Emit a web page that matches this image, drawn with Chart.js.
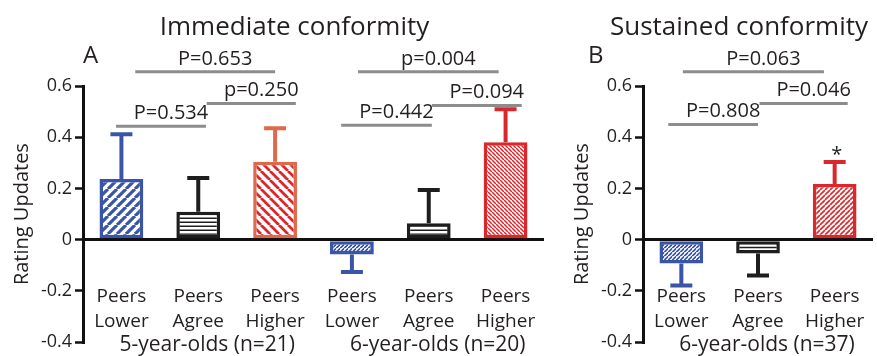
<!DOCTYPE html>
<html>
<head>
<meta charset="utf-8">
<script src="https://cdn.jsdelivr.net/npm/chart.js@4.4.0/dist/chart.umd.min.js"></script>
<style>
html, body { margin: 0; padding: 0; background: #fff; }
#wrap { position: relative; width: 877px; height: 356px; overflow: hidden; }
#chart-a { position: absolute; left: 0; top: 0; }
#chart-b { position: absolute; left: 560px; top: 0; }
</style>
</head>
<body>
<div id="wrap">
    <canvas id="chart-a" width="580" height="356"></canvas>
    <canvas id="chart-b" width="317" height="356"></canvas>
</div>
<script>
// ---- data ----
const yTicks = [-0.4, -0.2, 0, 0.2, 0.4, 0.6];

// A: immediate conformity
const immediateLabels = [['Peers', 'Lower'], ['Peers', 'Agree'], ['Peers', 'Higher'],
                         ['Peers', 'Lower'], ['Peers', 'Agree'], ['Peers', 'Higher']];
const immediateMeans = [0.237, 0.109, 0.304, -0.058, 0.064, 0.38];
const immediateSem = [0.175, 0.132, 0.131, 0.068, 0.13, 0.129];
const immediateGroups = ['5-year-olds (n=21)', '6-year-olds (n=20)'];
// comparisons: span in category units, height in rating units, label
const immediateFrom = [0.18, -0.07, 1.11, 3.08, 2.86, 4.04];
const immediateTo = [2.0, 1.10, 2.27, 4.91, 4.04, 5.21];
const immediateLevel = [0.656, 0.443, 0.532, 0.656, 0.447, 0.524];
const immediateP = ['P=0.653', 'P=0.534', 'p=0.250', 'p=0.004', 'P=0.442', 'P=0.094'];

// B: sustained conformity
const sustainedLabels = [['Peers', 'Lower'], ['Peers', 'Agree'], ['Peers', 'Higher']];
const sustainedMeans = [-0.093, -0.054, 0.217];
const sustainedSem = [0.086, 0.086, 0.086];
const sustainedGroups = ['6-year-olds (n=37)'];
const sustainedFrom = [0.02, -0.17, 1.02];
const sustainedTo = [1.86, 1.0, 2.17];
const sustainedLevel = [0.656, 0.45, 0.532];
const sustainedP = ['P=0.063', 'P=0.808', 'P=0.046'];
const sustainedStars = ['', '', '*'];

// ---- styles ----
const FONT = '"Open Sans", "Noto Sans", sans-serif';
const INK = '#231f20';
const BLUE = '#3a55a6', BLACK = '#1e1e1e', ORANGE = '#e0694b', RED = '#d8282c';

function hatch(color, dir, size, width) {
    const c = document.createElement('canvas');
    c.width = dir === 'h' ? 4 : size;
    c.height = size;
    const g = c.getContext('2d');
    g.fillStyle = '#fff';
    g.fillRect(0, 0, c.width, c.height);
    g.strokeStyle = color;
    g.lineWidth = width;
    g.beginPath();
    if (dir === 'h') {
        g.moveTo(0, size / 2); g.lineTo(c.width, size / 2);
    } else {
        for (let k = -1; k <= 1; k++) {
            if (dir === '/') { g.moveTo(k * size, size); g.lineTo(k * size + size, 0); }
            else { g.moveTo(k * size, 0); g.lineTo(k * size + size, size); }
        }
    }
    g.stroke();
    return g.createPattern(c, 'repeat');
}

const immediateColors = [BLUE, BLACK, ORANGE, BLUE, BLACK, RED];
const immediateFills = [
    hatch(BLUE, '/', 9, 3.2), hatch(BLACK, 'h', 4.5, 1.5), hatch(RED, '\\', 9, 2.8),
    hatch(BLUE, '/', 4.5, 1.6), hatch(BLACK, 'h', 4.5, 1.5), hatch(RED, '\\', 4, 1.5)
];
const sustainedColors = [BLUE, BLACK, RED];
const sustainedFills = [hatch(BLUE, '/', 4.5, 1.6), hatch(BLACK, 'h', 5, 1.5), hatch(RED, '/', 5, 1.6)];

const decor = {
    id: 'decor',
    afterDatasetsDraw(chart, args, o) {
        const { ctx, chartArea: a, scales: { x, y } } = chart;
        const means = chart.data.datasets[0].data;
        const zero = y.getPixelForValue(0);
        ctx.save();

        // error bars
        means.forEach((m, i) => {
            const cx = x.getPixelForValue(i);
            const y0 = y.getPixelForValue(m);
            const y1 = y.getPixelForValue(m + Math.sign(m) * o.sem[i]);
            ctx.strokeStyle = o.colors[i];
            ctx.lineWidth = 4;
            ctx.beginPath();
            ctx.moveTo(cx, y0); ctx.lineTo(cx, y1);
            ctx.moveTo(cx - 11, y1); ctx.lineTo(cx + 11, y1);
            ctx.stroke();
            if (o.stars && o.stars[i]) {
                ctx.fillStyle = INK;
                ctx.font = `20px ${FONT}`;
                ctx.textAlign = 'center';
                ctx.textBaseline = 'alphabetic';
                ctx.fillText(o.stars[i], cx + 2, y1 - 1);
            }
        });

        // comparison lines
        ctx.textAlign = 'center';
        ctx.textBaseline = 'alphabetic';
        ctx.font = `20px ${FONT}`;
        o.from.forEach((f, k) => {
            const x0 = x.getPixelForValue(f), x1 = x.getPixelForValue(o.to[k]);
            const py = y.getPixelForValue(o.level[k]);
            ctx.strokeStyle = '#8c8c8c';
            ctx.lineWidth = 3;
            ctx.beginPath(); ctx.moveTo(x0, py); ctx.lineTo(x1, py); ctx.stroke();
            ctx.fillStyle = INK;
            ctx.fillText(o.p[k], (x0 + x1) / 2 + 10, py - 7);
        });

        // category + group labels
        ctx.font = `19px ${FONT}`;
        chart.data.labels.forEach((lines, i) => {
            const cx = x.getPixelForValue(i);
            ctx.fillText(lines[0], cx, zero + 62);
            ctx.fillText(lines[1], cx, zero + 87);
        });
        ctx.font = `21px ${FONT}`;
        o.groups.forEach((g, k) => {
            ctx.fillText(g, x.getPixelForValue(k * 3 + 1) + 9, zero + 111);
        });

        // panel title and letter
        ctx.font = `26px ${FONT}`;
        ctx.fillText(o.title, (a.left + a.right) / 2 - 19, 35);
        ctx.font = `24px ${FONT}`;
        ctx.textAlign = 'left';
        ctx.fillText(o.letter, o.letterX, 63);
        ctx.restore();
    }
};

function makeChart(id, labels, means, fills, colors, padRight, extra) {
    return new Chart(document.getElementById(id), {
        type: 'bar',
        data: {
            labels,
            datasets: [{
                data: means,
                backgroundColor: fills,
                borderColor: colors,
                borderWidth: 3.5,
                borderSkipped: false,
                categoryPercentage: 1,
                barPercentage: 0.57
            }]
        },
        options: {
            responsive: false,
            animation: false,
            layout: { padding: { top: 86, left: 8, right: padRight, bottom: 12 } },
            plugins: { legend: { display: false }, tooltip: { enabled: false }, decor: extra },
            scales: {
                x: { display: false },
                y: {
                    min: -0.4,
                    max: 0.6,
                    afterBuildTicks: s => { s.ticks = yTicks.map(v => ({ value: v })); },
                    afterFit: s => { s.width = 75; },
                    ticks: {
                        color: INK,
                        padding: 3,
                        font: { family: FONT, size: 18 },
                        callback: v => (v === 0 ? '0' : v.toFixed(1))
                    },
                    grid: {
                        drawOnChartArea: true,
                        color: c => (c.tick && c.tick.value === 0 ? '#111' : 'rgba(0,0,0,0)'),
                        lineWidth: 3,
                        tickColor: '#111',
                        tickLength: 8,
                        tickWidth: 2.5
                    },
                    border: { display: true, color: '#111', width: 3 },
                    title: {
                        display: true,
                        text: 'Rating Updates',
                        color: INK,
                        font: { family: FONT, size: 20 },
                        padding: 2
                    }
                }
            }
        },
        plugins: [decor]
    });
}

makeChart('chart-a', immediateLabels, immediateMeans, immediateFills, immediateColors, 36, {
    title: 'Immediate conformity', letter: 'A', letterX: 83,
    sem: immediateSem, colors: immediateColors, groups: immediateGroups,
    from: immediateFrom, to: immediateTo, level: immediateLevel, p: immediateP
});

makeChart('chart-b', sustainedLabels, sustainedMeans, sustainedFills, sustainedColors, 4, {
    title: 'Sustained conformity', letter: 'B', letterX: 28,
    sem: sustainedSem, colors: sustainedColors, groups: sustainedGroups, stars: sustainedStars,
    from: sustainedFrom, to: sustainedTo, level: sustainedLevel, p: sustainedP
});
</script>
</body>
</html>
